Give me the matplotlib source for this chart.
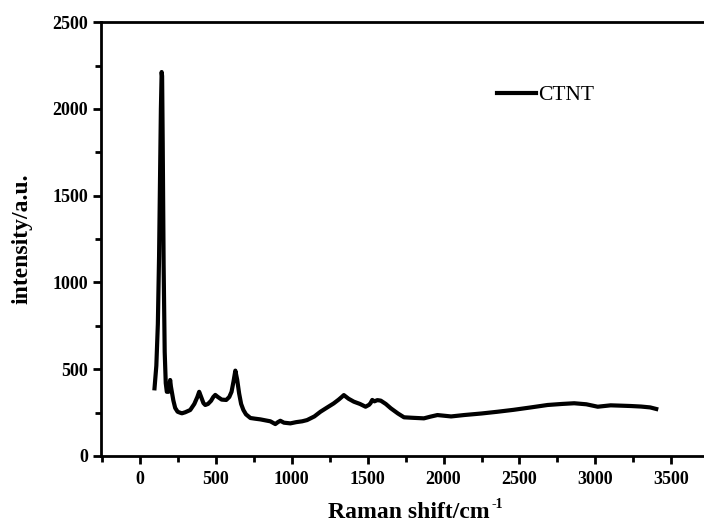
import numpy as np
import matplotlib.pyplot as plt
from matplotlib.ticker import MultipleLocator

# --------------------------
# Raman spectrum values
# --------------------------
shift = [98, 110, 120, 128, 135, 140, 145, 148, 152, 158, 165, 172, 179, 190,
         201, 206, 212, 222, 234, 250, 265, 278, 300, 333, 360, 380, 392,
         405, 420, 432, 450, 470, 485, 498, 515, 540, 570, 590, 605, 618,
         630, 642, 655, 668, 683, 700, 729, 760, 795, 830, 860, 893, 910,
         926, 950, 992, 1030, 1070, 1102, 1150, 1190, 1235, 1277, 1310,
         1330, 1344, 1375, 1410, 1450, 1487, 1510, 1520, 1531, 1545, 1565,
         1587, 1620, 1653, 1700, 1740, 1800, 1871, 1915, 1960, 2050, 2135,
         2250, 2355, 2460, 2575, 2685, 2780, 2860, 2940, 3015, 3100, 3170,
         3234, 3300, 3360, 3400]
intensity = [390, 520, 760, 1150, 1650, 2000, 2213, 2190, 1800, 1100, 600,
             420, 370, 370, 438, 400, 370, 320, 277, 255, 250, 246, 252, 265,
             300, 340, 370, 340, 305, 294, 300, 318, 340, 352, 340, 325, 323,
             340, 370, 430, 492, 440, 360, 300, 265, 240, 219, 215, 211, 205,
             200, 184, 195, 203, 192, 188, 195, 200, 207, 228, 255, 280, 303,
             325, 340, 351, 330, 313, 300, 284, 295, 305, 323, 315, 322, 319,
             300, 275, 245, 223, 220, 217, 227, 236, 228, 236, 245, 255, 266,
             280, 294, 300, 304, 298, 284, 292, 290, 288, 285, 280, 271]

# --------------------------
# Plotting
# --------------------------
plt.rcParams['font.family'] = ['Liberation Serif', 'DejaVu Serif']

fig = plt.figure(figsize=(7.04, 5.29), dpi=100)
ax = fig.add_axes([0.1435, 0.138, 0.875, 0.82])

ax.plot(shift, intensity, color='black', linewidth=3.0, label='CTNT')

ax.set_xlim(-254, 3800)
ax.set_ylim(0, 2500)
ax.xaxis.set_major_locator(MultipleLocator(500))
ax.xaxis.set_minor_locator(MultipleLocator(250))
ax.yaxis.set_major_locator(MultipleLocator(500))
ax.yaxis.set_minor_locator(MultipleLocator(250))

for s in ax.spines.values():
    s.set_linewidth(2.0)
ax.tick_params(which='major', direction='out', length=6, width=2, labelsize=13)
ax.tick_params(axis='x', which='major', pad=5)
ax.tick_params(which='minor', direction='out', length=4, width=2)
for lbl in ax.get_xticklabels() + ax.get_yticklabels():
    lbl.set_fontweight('bold')

xlab = ax.set_xlabel('Raman shift/cm', fontsize=17, fontweight='bold', labelpad=10)
# small superscript after the axis label
ax.annotate('-1', xy=(1.0, 1.0), xycoords=xlab, xytext=(1, 3),
            textcoords='offset points', ha='left', va='top',
            fontsize=10, fontweight='bold')
ax.set_ylabel('intensity/a.u.', fontsize=17, fontweight='bold', labelpad=14)

ax.legend(loc='upper left', bbox_to_anchor=(0.612, 0.90), frameon=False,
          fontsize=15.5, handlelength=1.8, handletextpad=0.1)

fig.savefig('out.png', dpi=100)
